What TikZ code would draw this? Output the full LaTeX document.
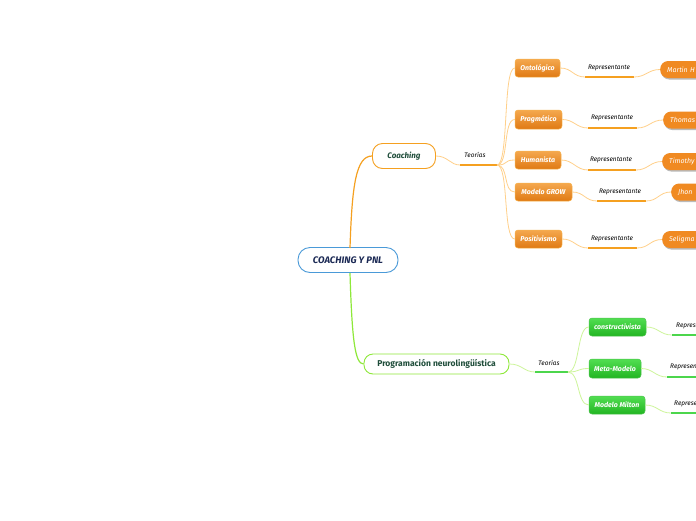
\documentclass[tikz,border=0pt]{standalone}
\usepackage{fontspec}
\setmainfont{Fira Sans}
\usetikzlibrary{shadows}
\definecolor{rootblue}{HTML}{4A9AD8}
\definecolor{navy}{HTML}{1C2A55}
\definecolor{dgreen}{HTML}{1F4D3A}
\definecolor{orline}{HTML}{F5A020}
\definecolor{orlight}{HTML}{FFD08A}
\definecolor{ortop}{HTML}{F4A84E}
\definecolor{orbot}{HTML}{E07A14}
\definecolor{orperson}{HTML}{F08A22}
\definecolor{grline}{HTML}{8EE83A}
\definecolor{grlight}{HTML}{CDF59A}
\definecolor{grtop}{HTML}{52DE52}
\definecolor{grbot}{HTML}{22B522}
\definecolor{grul}{HTML}{4CD64C}
\begin{document}
\begin{tikzpicture}[x=1pt,y=-1pt,
  rootbox/.style={draw=rootblue,line width=0.9pt,fill=white,rounded corners=12pt,minimum width=100pt,minimum height=25pt,text=navy,font=\itshape\bfseries\fontsize{9.5}{11}\selectfont,inner sep=0pt},
  mainor/.style={draw=orline,line width=0.9pt,fill=white,rounded corners=10pt,minimum height=25pt,text=dgreen,font=\itshape\bfseries\fontsize{8}{10}\selectfont,inner sep=0pt},
  maingr/.style={draw=grline,line width=0.9pt,fill=white,rounded corners=9pt,minimum height=20pt,text=dgreen,font=\bfseries\fontsize{8.5}{10}\selectfont,inner sep=0pt},
  orbox/.style={draw=orline!80,line width=0.5pt,top color=ortop,bottom color=orbot,rounded corners=3pt,minimum height=18pt,text=white,font=\itshape\bfseries\fontsize{7}{8}\selectfont,inner sep=0pt},
  grbox/.style={draw=grbot!80,line width=0.5pt,top color=grtop,bottom color=grbot,rounded corners=3pt,minimum height=18pt,text=white,font=\itshape\bfseries\fontsize{7}{8}\selectfont,inner sep=0pt},
  person/.style={fill=orperson,rounded corners=8pt,minimum height=17pt,text=white,font=\itshape\fontsize{7}{8}\selectfont,inner sep=0pt,anchor=west,minimum width=70pt,text width=62pt,align=left,drop shadow={shadow xshift=1pt,shadow yshift=-1.5pt,fill=black!45,opacity=0.6}},
  lbl/.style={font=\itshape\fontsize{6.5}{7.5}\selectfont,text=black,inner sep=0pt},
  thinor/.style={draw=orlight,line width=0.8pt},
  thingr/.style={draw=grlight,line width=0.8pt},
  ulor/.style={draw=orline,line width=1.3pt},
  ulgr/.style={draw=grul,line width=1.3pt}
]
\useasboundingbox (0,0) rectangle (696,520);
\clip (0,0) rectangle (696,520);
\fill[white] (0,0) rectangle (696,520);

% main nodes
\node[rootbox] (root) at (348,260) {COACHING Y PNL};
\node[mainor,minimum width=63pt] (coach) at (404,156) {Coaching};
\node[maingr,minimum width=145pt] (pnl) at (436.5,364) {Programación neurolingüística};

% main connectors
\coordinate (rtop) at (350,248);
\coordinate (rbot) at (350,273);
\draw[orline,line width=1.2pt] (rtop) .. controls (352,185) and (356,156) .. (coach.west);
\draw[grline,line width=1.2pt] (rbot) .. controls (352,340) and (355,364) .. (pnl.west);

% Teorias (coaching)
\node[lbl] (t1) at (475,155) {Teorías};
\coordinate (t1a) at (460,165);
\coordinate (t1b) at (497,165);
\draw[thinor] (coach.east) .. controls (448,156) and (450,165) .. (t1a);
\draw[ulor] (t1a) -- (t1b);

% Teorias (pnl)
\node[lbl] (t2) at (549,363) {Teorías};
\coordinate (t2a) at (535,372);
\coordinate (t2b) at (568,372);
\draw[thingr] (pnl.east) .. controls (522,364) and (524,372) .. (t2a);
\draw[ulgr] (t2a) -- (t2b);

% orange theory boxes
\node[orbox,minimum width=45pt] (ont) at (537.5,68) {Ontológico};
\node[orbox,minimum width=47pt,minimum height=19pt] (prag) at (538.5,119.5) {Pragmático};
\node[orbox,minimum width=46pt] (hum) at (538,160) {Humanista};
\node[orbox,minimum width=57pt] (grow) at (543.5,192) {Modelo GROW};
\node[orbox,minimum width=47pt] (pos) at (538.5,239) {Positivismo};

\foreach \n in {ont,prag,hum,grow,pos}{
  \draw[thinor] (t1b) .. controls ([xshift=12pt]t1b) and ([xshift=-12pt]\n.west) .. (\n.west);
}

% representante labels (orange)
\node[lbl] (r1) at (609,68) {Representante};
\coordinate (r1a) at (585,77); \coordinate (r1b) at (634,77);
\node[lbl] (r2) at (612,118) {Representante};
\coordinate (r2a) at (588,128); \coordinate (r2b) at (637,128);
\node[lbl] (r3) at (611,160) {Representante};
\coordinate (r3a) at (588,170); \coordinate (r3b) at (636,170);
\node[lbl] (r4) at (620,192) {Representante};
\coordinate (r4a) at (597,201); \coordinate (r4b) at (646,201);
\node[lbl] (r5) at (612,239) {Representante};
\coordinate (r5a) at (588,248); \coordinate (r5b) at (637,248);

% persons
\node[person] (p1) at (660,69.5) {\hspace*{3pt}Martin H};
\node[person] (p2) at (663,120) {\hspace*{3pt}Thomas};
\node[person] (p3) at (662,161.5) {\hspace*{3pt}Timothy};
\node[person] (p4) at (671,192) {\hspace*{3pt}Jhon};
\node[person] (p5) at (662,239.5) {\hspace*{3pt}Seligma};

\foreach \b/\i in {ont/1,prag/2,hum/3,grow/4,pos/5}{
  \draw[thinor] (\b.east) .. controls ([xshift=12pt]\b.east) and ([xshift=-12pt]r\i a) .. (r\i a);
  \draw[ulor] (r\i a) -- (r\i b);
  \draw[thinor] (r\i b) .. controls ([xshift=12pt]r\i b) and ([xshift=-12pt]p\i.west) .. (p\i.west);
}

% green theory boxes
\node[grbox,minimum width=57pt] (cons) at (617.5,327) {constructivista};
\node[grbox,minimum width=52pt,minimum height=19pt] (meta) at (615,368.5) {Meta-Modelo};
\node[grbox,minimum width=56pt] (milt) at (617,405) {Modelo Milton};

\foreach \n in {cons,meta,milt}{
  \draw[thingr] (t2b) .. controls ([xshift=12pt]t2b) and ([xshift=-12pt]\n.west) .. (\n.west);
}

\node[lbl,anchor=west] (g1) at (676,326) {Repres};
\coordinate (g1a) at (672,335); \coordinate (g1b) at (721,335);
\node[lbl,anchor=west] (g2) at (670,367) {Represen};
\coordinate (g2a) at (667,377); \coordinate (g2b) at (716,377);
\node[lbl,anchor=west] (g3) at (674,404) {Represe};
\coordinate (g3a) at (671,413); \coordinate (g3b) at (720,413);

\foreach \b/\i in {cons/1,meta/2,milt/3}{
  \draw[thingr] (\b.east) .. controls ([xshift=12pt]\b.east) and ([xshift=-12pt]g\i a) .. (g\i a);
  \draw[ulgr] (g\i a) -- (g\i b);
}
\end{tikzpicture}
\end{document}
